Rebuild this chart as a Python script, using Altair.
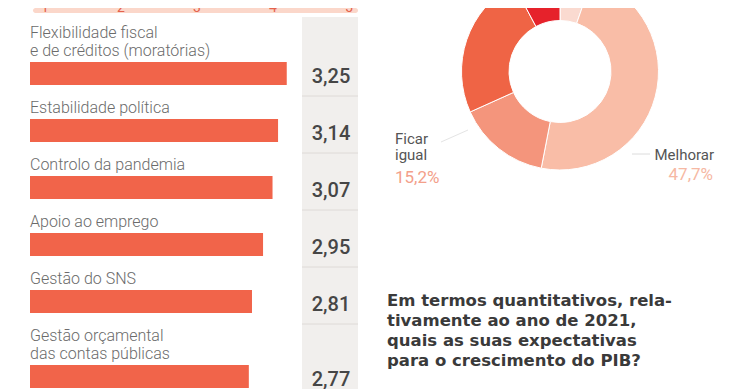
import altair as alt
import pandas as pd

# ---------------- data ----------------
categories = [
    "Flexibilidade fiscal\ne de créditos (moratórias)",
    "Estabilidade política",
    "Controlo da pandemia",
    "Apoio ao emprego",
    "Gestão do SNS",
    "Gestão orçamental\ndas contas públicas",
]
scores = [3.25, 3.14, 3.07, 2.95, 2.81, 2.77]
score_labels = ["3,25", "3,14", "3,07", "2,95", "2,81", "2,77"]
scale_ticks = [1, 2, 3, 4, 5]

donut_cats = ["Melhorar muito", "Melhorar", "Ficar igual", "Piorar", "Piorar muito"]
donut_pct = [5.3, 47.7, 15.2, 23.9, 7.8]
donut_colors = ["#fadad0", "#f9bda7", "#f4957c", "#ef6445", "#e6222b"]

question_lines = [
    "Em termos quantitativos, rela-",
    "tivamente ao ano de 2021,",
    "quais as suas expectativas",
    "para o crescimento do PIB?",
]

# ---------------- layout ----------------
W, H = 724, 381
OFF = 8  # page margin
LINE, BAR_H = 18, 23

rows = []
T = 21
for i, (c, v, lab) in enumerate(zip(categories, scores, score_labels)):
    n = c.count("\n") + 1
    bar_top = T + LINE * n + 5
    bar_bot = bar_top + BAR_H
    bottom = bar_bot + 11
    rows.append(dict(
        label=c, value=v, vlabel=lab, zero=0.0,
        base=T + 17 - OFF,
        bar_top=bar_top - OFF, bar_bot=bar_bot - OFF,
        vbase=bar_bot - 2 - OFF,
        box_top=(T - 4 if i == 0 else T) - OFF, box_bot=bottom - OFF,
        sep=T - OFF, first=(i == 0),
    ))
    T = bottom
df = pd.DataFrame(rows)

YS = alt.Scale(domain=[0, H], range=[0, H])
XS = alt.Scale(domain=[0, 5], range=[22, 417])

one = pd.DataFrame({"a": [0]})

band = alt.Chart(one).mark_rect(color="#fbd7ca", cornerRadius=3).encode(
    x=alt.value(25), x2=alt.value(350), y=alt.value(0), y2=alt.value(5)
)
ticks = alt.Chart(pd.DataFrame({"t": scale_ticks})).mark_text(
    fontSize=14, font="Roboto", color="#e4624c", baseline="alphabetic"
).encode(
    x=alt.X("t:Q", scale=alt.Scale(domain=[1, 5], range=[37, 341]), axis=None),
    y=alt.value(4),
    text="t:N",
)

boxes = alt.Chart(df).mark_rect(color="#f1efed").encode(
    x=alt.value(294), x2=alt.value(350),
    y=alt.Y("box_top:Q", scale=YS, axis=None), y2="box_bot:Q",
)
seps = alt.Chart(df).transform_filter("!datum.first").mark_rule(
    color="#dedad7", strokeWidth=1
).encode(
    x=alt.value(294), x2=alt.value(350),
    y=alt.Y("sep:Q", scale=YS, axis=None),
)
bars = alt.Chart(df).mark_rect(color="#f1644a").encode(
    x=alt.X("value:Q", scale=XS, axis=None), x2="zero:Q",
    y=alt.Y("bar_top:Q", scale=YS, axis=None), y2="bar_bot:Q",
)
cat_labels = alt.Chart(df).mark_text(
    align="left", baseline="alphabetic", font="Roboto", fontWeight=300,
    fontSize=16, color="#6b6b6b", lineBreak="\n", lineHeight=18,
).encode(
    x=alt.value(22), y=alt.Y("base:Q", scale=YS, axis=None), text="label:N"
)
val_labels = alt.Chart(df).mark_text(
    align="center", baseline="alphabetic", font="Roboto", fontWeight=500,
    fontSize=20, color="#464646",
).encode(
    x=alt.value(323), y=alt.Y("vbase:Q", scale=YS, axis=None), text="vlabel:N"
)

ddf = pd.DataFrame({"cat": donut_cats, "pct": donut_pct, "ord": list(range(len(donut_cats)))})
donut = alt.Chart(ddf).mark_arc(
    outerRadius=98.5, innerRadius=51, stroke="white", strokeWidth=1
).encode(
    theta=alt.Theta("pct:Q", stack=True),
    color=alt.Color("cat:N", scale=alt.Scale(domain=donut_cats, range=donut_colors), legend=None),
    order=alt.Order("ord:Q"),
    x=alt.value(552), y=alt.value(63.5),
)

def pct_txt(p):
    return f"{p:.1f}%".replace(".", ",")

ficar = pd.DataFrame({"t": [donut_cats[2].replace(" ", "\n")], "p": [pct_txt(donut_pct[2])]})
melh = pd.DataFrame({"t": [donut_cats[1]], "p": [pct_txt(donut_pct[1])]})

ficar_lab = alt.Chart(ficar).mark_text(
    align="left", baseline="alphabetic", font="Roboto", fontSize=15,
    color="#555555", lineBreak="\n", lineHeight=16,
).encode(x=alt.value(387), y=alt.value(136), text="t:N")
ficar_pct = alt.Chart(ficar).mark_text(
    align="left", baseline="alphabetic", font="Roboto", fontSize=17, color="#f3a08a",
).encode(x=alt.value(387), y=alt.value(175), text="p:N")
melh_lab = alt.Chart(melh).mark_text(
    align="right", baseline="alphabetic", font="Roboto", fontSize=15, color="#555555",
).encode(x=alt.value(706), y=alt.value(152), text="t:N")
melh_pct = alt.Chart(melh).mark_text(
    align="right", baseline="alphabetic", font="Roboto", fontSize=17, color="#f6b8a3",
).encode(x=alt.value(705), y=alt.value(172), text="p:N")

lead1 = alt.Chart(one).mark_rule(color="#e4e4e4", strokeWidth=1).encode(
    x=alt.value(433), y=alt.value(134), x2=alt.value(460), y2=alt.value(122)
)
lead2 = alt.Chart(one).mark_rule(color="#dcdcdc", strokeWidth=1).encode(
    x=alt.value(624), y=alt.value(146), x2=alt.value(642), y2=alt.value(146)
)

qdf = pd.DataFrame({"q": ["\n".join(question_lines)]})
question = alt.Chart(qdf).mark_text(
    align="left", baseline="alphabetic", font="DejaVu Sans", fontWeight="bold",
    fontSize=16.5, color="#3a3a3a", lineBreak="\n", lineHeight=20,
).encode(x=alt.value(379), y=alt.value(298), text="q:N")

chart = alt.layer(
    band, ticks, boxes, seps, bars, cat_labels, val_labels,
    donut, lead1, lead2, ficar_lab, ficar_pct, melh_lab, melh_pct, question,
).resolve_scale(
    x="independent", y="independent", color="independent", theta="independent"
).properties(
    width=W, height=H, padding=0,
    autosize=alt.AutoSizeParams(type="none"),
    background="white",
).configure_view(stroke=None)

chart.save("out.html", embed_options={"renderer": "svg", "actions": False})
